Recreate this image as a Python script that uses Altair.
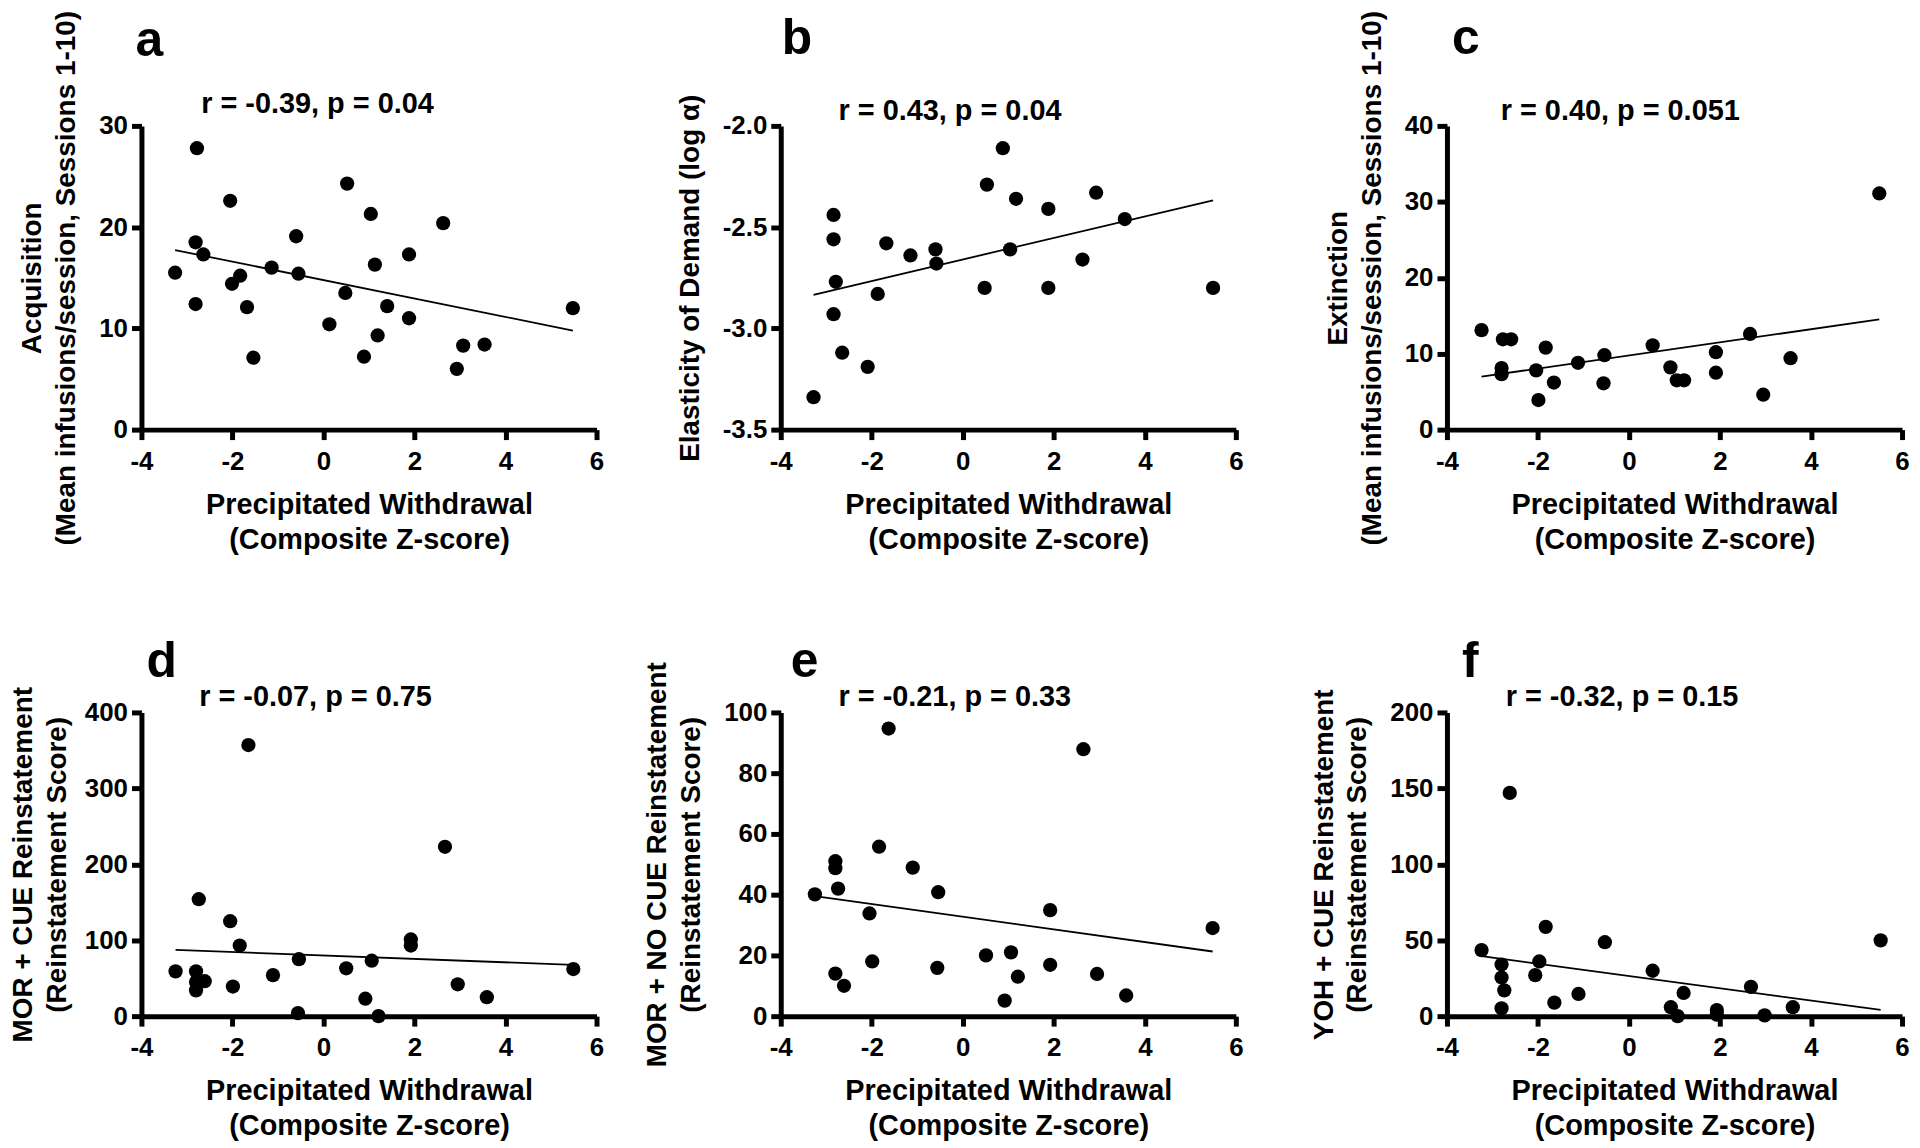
import altair as alt
import pandas as pd

FONT = "Liberation Sans, Arial, Helvetica, sans-serif"

# ---------------- data ----------------
a_x = [-3.26, -2.78, -2.81, -2.64, -2.81, -2.05, -2.01, -1.83, -1.68, -1.54, -1.14, -0.60, -0.55, 0.13,
       0.48, 0.52, 0.89, 1.04, 1.13, 1.19, 1.40, 1.88, 1.88, 2.63, 2.93, 3.07, 3.54, 5.48]
a_y = [15.5, 27.8, 18.5, 17.3, 12.4, 22.6, 14.4, 15.2, 12.1, 7.1, 16.0, 19.1, 15.4, 10.4,
       13.5, 24.3, 7.2, 21.3, 16.3, 9.3, 12.2, 17.3, 11.0, 20.4, 6.0, 8.3, 8.4, 12.0]

b_x = [-3.28, -2.84, -2.84, -2.79, -2.84, -2.65, -2.09, -1.87, -1.68, -1.15, -0.60, -0.58,
       0.48, 0.53, 0.88, 1.04, 1.17, 1.88, 1.88, 2.63, 2.93, 3.56, 5.50]
b_y = [-3.34, -2.44, -2.56, -2.77, -2.93, -3.12, -3.19, -2.83, -2.58, -2.64, -2.61, -2.68,
       -2.80, -2.29, -2.11, -2.61, -2.36, -2.41, -2.80, -2.66, -2.33, -2.46, -2.80]

c_x = [-3.24, -2.77, -2.59, -2.80, -2.80, -2.04, -1.99, -1.83, -1.65, -1.12, -0.54, -0.56,
       0.52, 0.91, 1.05, 1.21, 1.91, 1.91, 2.66, 2.95, 3.55, 5.50]
c_y = [13.1, 11.9, 11.9, 8.1, 7.3, 7.8, 3.9, 10.8, 6.2, 8.8, 9.8, 6.1,
       11.1, 8.2, 6.5, 6.5, 10.2, 7.5, 12.6, 4.6, 9.4, 31.1]

d_x = [-3.25, -2.74, -2.80, -2.80, -2.80, -2.61, -2.05, -1.99, -1.84, -1.65, -1.11, -0.54,
       -0.56, 0.50, 0.92, 1.06, 1.21, 1.92, 1.92, 2.67, 2.95, 3.59, 5.49]
d_y = [59, 154, 59, 45, 34, 46, 125, 39, 93, 357, 54, 75,
       4, 63, 23, 73, 0, 101, 93, 223, 42, 25, 62]

e_x = [-3.25, -2.80, -2.80, -2.74, -2.80, -2.61, -2.05, -1.99, -1.84, -1.63, -1.10, -0.54,
       -0.56, 0.51, 0.92, 1.06, 1.21, 1.92, 1.92, 2.65, 2.95, 3.59, 5.49]
e_y = [40.1, 51.0, 48.7, 42.0, 14.0, 10.0, 33.8, 18.0, 55.8, 94.7, 48.9, 40.8,
       15.9, 20.0, 5.1, 21.0, 13.0, 34.9, 16.9, 87.9, 13.9, 6.8, 29.0]

f_x = [-3.24, -2.62, -2.80, -2.80, -2.74, -2.80, -1.83, -1.97, -2.06, -1.64, -1.11, -0.53,
       0.52, 0.92, 1.07, 1.20, 1.93, 1.93, 2.68, 2.98, 3.60, 5.53]
f_y = [43.5, 147.0, 34.0, 25.4, 17.0, 5.2, 58.8, 36.0, 27.0, 8.9, 14.6, 48.7,
       29.9, 5.9, 0.0, 15.3, 4.0, 1.0, 19.3, 0.5, 5.9, 49.9]

letters = ["a", "b", "c", "d", "e", "f"]
stats = ["r = -0.39, p = 0.04", "r = 0.43, p = 0.04", "r = 0.40, p = 0.051",
         "r = -0.07, p = 0.75", "r = -0.21, p = 0.33", "r = -0.32, p = 0.15"]
y_titles = [
    ["Acquisition", "(Mean infusions/session, Sessions 1-10)"],
    "Elasticity of Demand (log \u03b1)",
    ["Extinction", "(Mean infusions/session, Sessions 1-10)"],
    ["MOR + CUE Reinstatement", "(Reinstatement Score)"],
    ["MOR + NO CUE Reinstatement", "(Reinstatement Score)"],
    ["YOH + CUE Reinstatement", "(Reinstatement Score)"],
]
y_domains = [[0, 30], [-3.5, -2.0], [0, 40], [0, 400], [0, 100], [0, 200]]
y_ticks = [[0, 10, 20, 30], [-3.5, -3.0, -2.5, -2.0], [0, 10, 20, 30, 40],
           [0, 100, 200, 300, 400], [0, 20, 40, 60, 80, 100], [0, 50, 100, 150, 200]]
y_formats = ["d", ".1f", "d", "d", "d", "d"]
x_ticks = [-4, -2, 0, 2, 4, 6]
x_title = ["Precipitated Withdrawal", "(Composite Z-score)"]

xs = [a_x, b_x, c_x, d_x, e_x, f_x]
ys = [a_y, b_y, c_y, d_y, e_y, f_y]

# layout helpers (pixels relative to each plot area)
W, H = 457, 305
letter_pos = [(-6, -70), (1, -72), (5, -72), (5, -36), (10, -36), (15, -36)]
stat_pos = [(60, -13), (58, -6), (54, -6), (58, -6), (58, -6), (59, -6)]
y_title_pad = [18, 18, 18, 13, 18, 18]

MINUS_FIX = "replace(datum.label, '\u2212', '-')"


def panel(i):
    df = pd.DataFrame({"x": xs[i], "y": ys[i]})
    base = alt.Chart(df)
    xenc = alt.X("x:Q", scale=alt.Scale(domain=[-4, 6], nice=False, zero=False),
                 axis=alt.Axis(values=x_ticks, title=x_title, format="d",
                               labelExpr=MINUS_FIX, labelFlush=False, labelOverlap=False))
    yenc = alt.Y("y:Q", scale=alt.Scale(domain=y_domains[i], nice=False, zero=False),
                 axis=alt.Axis(values=y_ticks[i], title=y_titles[i], format=y_formats[i],
                               labelExpr=MINUS_FIX, labelOverlap=False,
                               titlePadding=y_title_pad[i]))
    pts = base.mark_circle(size=205, color="black", opacity=1).encode(x=xenc, y=yenc)
    reg = base.transform_regression("x", "y").mark_line(
        color="black", strokeWidth=1.8).encode(x="x:Q", y="y:Q")
    lt = alt.Chart(pd.DataFrame({"t": [letters[i]]})).mark_text(
        font=FONT, fontSize=50, fontWeight="bold", align="left", baseline="alphabetic",
        color="black").encode(text="t:N", x=alt.value(letter_pos[i][0]), y=alt.value(letter_pos[i][1]))
    st = alt.Chart(pd.DataFrame({"t": [stats[i]]})).mark_text(
        font=FONT, fontSize=29, fontWeight="bold", align="left", baseline="alphabetic",
        color="black").encode(text="t:N", x=alt.value(stat_pos[i][0]), y=alt.value(stat_pos[i][1]))
    layers = [pts, reg, lt, st]
    if i in (1, 4):
        pad = alt.Chart(pd.DataFrame({"t": [0]})).mark_rule(color="white", strokeOpacity=0).encode(
            x=alt.value(W + 35), y=alt.value(0), y2=alt.value(10))
        layers.append(pad)
    return alt.layer(*layers).properties(width=W, height=H)


chart = alt.concat(*[panel(i) for i in range(6)], columns=3,
                   spacing={"row": 83, "column": 39}, align="each").properties(
    padding={"left": 1, "top": 0, "right": 2, "bottom": 2}, background="white"
).configure_view(stroke=None).configure_axis(
    domainColor="black", domainWidth=5, tickColor="black", tickWidth=5, tickSize=10,
    labelFont=FONT, labelFontSize=26, labelFontWeight="bold", labelColor="black",
    titleFont=FONT, titleFontWeight="bold", titleColor="black", grid=False
).configure_axisX(
    labelPadding=9, titleFontSize=29, titleLineHeight=35, titlePadding=16
).configure_axisY(
    labelPadding=4, titleFontSize=28, titleLineHeight=34
)

chart.save("out.html", embed_options={"renderer": "svg", "actions": False})
